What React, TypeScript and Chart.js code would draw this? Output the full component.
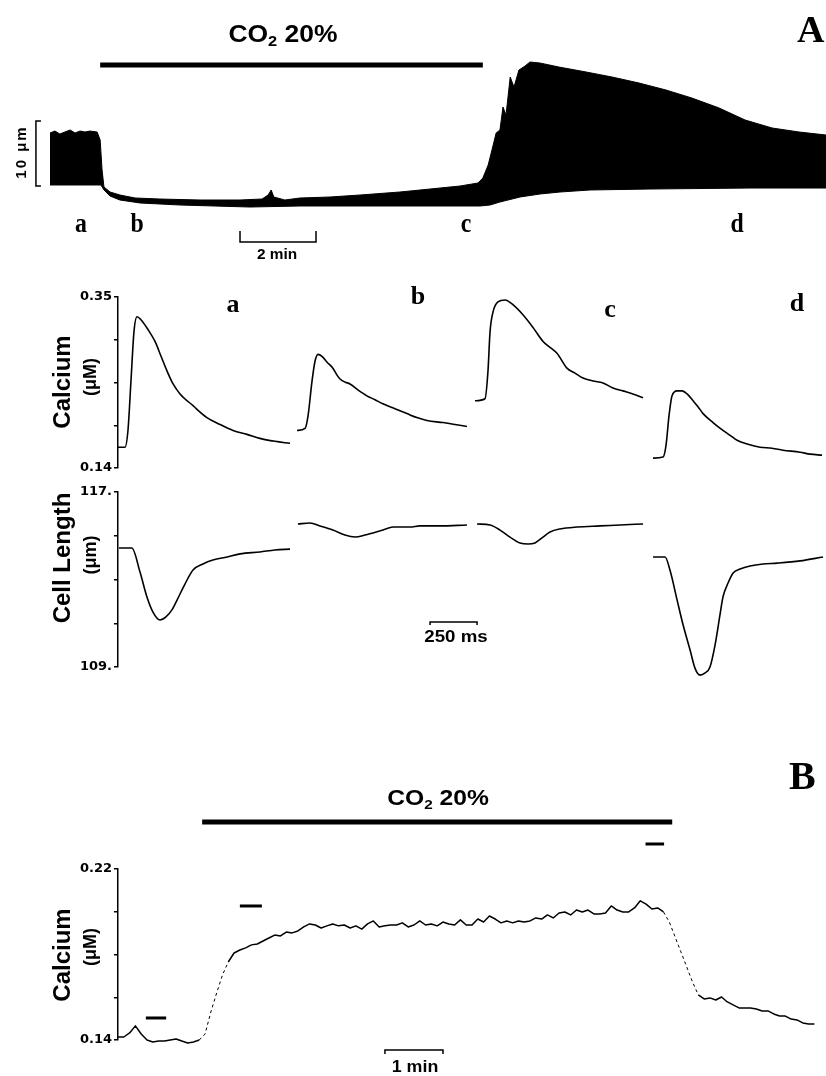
import React, { useEffect, useRef } from 'react';
import { Chart, registerables } from 'chart.js';
Chart.register(...registerables);

const SANS = '"Liberation Sans", Arial, Helvetica, sans-serif';
const SERIF = '"Liberation Serif", "Times New Roman", serif';

// ---------- Panel A, top: continuous cell-length record (time in min, length in µm) ----------
const A_UPPER_T = [0, 0.13, 0.26, 0.39, 0.53, 0.66, 0.79, 0.92, 1.05, 1.24, 1.32, 1.37, 1.42, 1.58, 1.84, 2.24, 2.89, 3.95, 5.0, 5.58, 5.74, 5.82, 5.89, 6.18, 6.58, 7.37, 8.16, 9.21, 10.0, 10.79, 11.26, 11.39, 11.53, 11.63, 11.74, 11.84, 11.92, 12.0, 12.11, 12.21, 12.34, 12.5, 12.63, 12.89, 13.39, 14.11, 14.79, 15.5, 16.21, 16.89, 17.61, 18.29, 19.0, 19.71, 20.42];
const A_UPPER_V = [11.85, 12.15, 11.69, 12.0, 12.31, 11.85, 12.15, 12.0, 12.15, 12.0, 10.77, 6.15, 3.54, 2.77, 2.31, 1.85, 1.69, 1.54, 1.54, 1.69, 2.31, 3.08, 2.0, 1.54, 1.85, 2.0, 2.31, 2.77, 3.23, 3.69, 4.15, 4.92, 6.92, 9.23, 11.85, 12.31, 15.85, 14.62, 20.46, 18.92, 21.54, 22.15, 22.77, 22.62, 22.0, 21.23, 20.46, 19.54, 18.46, 17.23, 15.69, 13.85, 12.62, 12.0, 11.54];
const A_LOWER_T = [0, 1.34, 1.42, 1.58, 1.84, 2.37, 3.42, 5.26, 6.58, 9.21, 11.32, 11.58, 11.84, 12.37, 12.89, 13.42, 14.21, 15.79, 18.42, 20.42];
const A_LOWER_V = [3.85, 3.85, 3.08, 2.15, 1.54, 1.08, 0.77, 0.46, 0.62, 0.62, 0.62, 0.77, 1.23, 2.0, 2.46, 2.77, 3.08, 3.23, 3.38, 3.38];
const A_CO2_T = [1.32, 11.39];
const A_CO2_LEVEL = 22.3;
const A_TOP_LETTERS = ['a', 'b', 'c', 'd'];

// ---------- Panel A, middle: single beats a-d (time in ms within each beat) ----------
const SEG_LETTERS = ['a', 'b', 'c', 'd'];
const SEG_START_MS = [0, 952, 1899, 2846];

const CA_A_T = [0, 37, 53, 69, 85, 101, 122, 160, 197, 229, 261, 293, 330, 399, 473, 543, 612, 686, 755, 835, 915];
const CA_A_V = [0.1655, 0.1655, 0.1861, 0.2468, 0.3075, 0.3257, 0.3221, 0.3099, 0.2954, 0.2772, 0.259, 0.2432, 0.231, 0.2165, 0.2019, 0.1934, 0.1861, 0.1813, 0.1764, 0.1728, 0.1703];
const CA_B_T = [0, 43, 59, 80, 96, 112, 133, 160, 191, 213, 229, 255, 282, 324, 372, 415, 457, 521, 585, 638, 691, 777, 840, 904];
const CA_B_V = [0.1861, 0.1886, 0.2043, 0.2468, 0.2711, 0.2796, 0.2772, 0.2699, 0.2626, 0.2541, 0.2493, 0.2456, 0.2432, 0.2359, 0.2286, 0.2238, 0.2189, 0.2128, 0.2068, 0.2019, 0.1983, 0.1958, 0.1934, 0.191];
const CA_C_T = [0, 53, 69, 80, 96, 122, 160, 197, 255, 309, 362, 399, 436, 489, 532, 574, 628, 681, 734, 787, 840, 894];
const CA_C_V = [0.2225, 0.225, 0.259, 0.3075, 0.3318, 0.3439, 0.3464, 0.3415, 0.3282, 0.3124, 0.2954, 0.2881, 0.2808, 0.2626, 0.2565, 0.2505, 0.2468, 0.2444, 0.2383, 0.2347, 0.231, 0.2262];
const CA_D_T = [0, 53, 69, 85, 101, 128, 154, 181, 213, 239, 266, 319, 372, 410, 447, 505, 569, 633, 691, 782, 835, 899];
const CA_D_V = [0.1521, 0.1534, 0.1679, 0.2043, 0.2286, 0.2347, 0.2347, 0.231, 0.2225, 0.2153, 0.2068, 0.1958, 0.1861, 0.1801, 0.174, 0.1691, 0.1655, 0.1643, 0.1619, 0.1594, 0.157, 0.1558];

const CL_A_T = [5, 74, 117, 154, 186, 223, 255, 287, 314, 356, 399, 452, 505, 580, 649, 755, 835, 915];
const CL_A_V = [114.44, 114.44, 113.34, 112.2, 111.51, 111.15, 111.29, 111.61, 112.06, 112.79, 113.43, 113.71, 113.89, 114.03, 114.17, 114.26, 114.35, 114.39];
const CL_B_T = [5, 69, 122, 191, 255, 309, 362, 404, 457, 511, 601, 654, 761, 904];
const CL_B_V = [115.54, 115.58, 115.45, 115.26, 115.03, 114.94, 115.03, 115.13, 115.26, 115.4, 115.4, 115.45, 115.45, 115.49];
const CL_C_T = [11, 80, 133, 186, 239, 282, 319, 356, 399, 452, 543, 665, 771, 894];
const CL_C_V = [115.54, 115.49, 115.26, 114.94, 114.67, 114.62, 114.67, 114.9, 115.17, 115.31, 115.4, 115.45, 115.49, 115.54];
const CL_D_T = [0, 64, 90, 128, 160, 197, 223, 250, 277, 303, 330, 356, 372, 399, 426, 463, 516, 585, 660, 782, 904];
const CL_D_V = [114.03, 114.03, 113.43, 112.06, 110.92, 109.78, 108.95, 108.63, 108.73, 109.0, 110.01, 111.38, 112.2, 112.84, 113.3, 113.48, 113.62, 113.71, 113.75, 113.85, 114.03];

const CA_TICKS = [0.14, 0.1925, 0.245, 0.2975, 0.35];
const CA_TICK_LABELS = ['0.14', '', '', '', '0.35'];
const CL_TICKS = [109, 111, 113, 115, 117];
const CL_TICK_LABELS = ['109.', '', '', '', '117.'];

// ---------- Panel B: calcium record (time in min, calcium in µM) ----------
const B_T = [0, 0.1, 0.2, 0.3, 0.4, 0.5, 0.6, 0.7, 0.8, 0.9, 1.0, 1.1, 1.2, 1.3, 1.4, 1.5, 1.6, 1.7, 1.8, 1.9, 2.0, 2.1, 2.2, 2.3, 2.4, 2.5, 2.6, 2.7, 2.8, 2.9, 3.0, 3.1, 3.2, 3.3, 3.4, 3.5, 3.6, 3.7, 3.8, 3.9, 4.0, 4.1, 4.2, 4.3, 4.4, 4.5, 4.6, 4.7, 4.8, 4.9, 5.0, 5.1, 5.2, 5.3, 5.4, 5.5, 5.6, 5.7, 5.8, 5.9, 6.0, 6.1, 6.2, 6.3, 6.4, 6.5, 6.6, 6.7, 6.8, 6.9, 7.0, 7.1, 7.2, 7.3, 7.4, 7.5, 7.6, 7.7, 7.8, 7.9, 8.0, 8.1, 8.2, 8.3, 8.4, 8.5, 8.6, 8.7, 8.8, 8.9, 9.0, 9.1, 9.2, 9.3, 9.4, 9.5, 9.6, 9.7, 9.8, 9.9, 10.0, 10.1, 10.2, 10.3, 10.4, 10.5, 10.6, 10.7, 10.8, 10.9, 11.0, 11.1, 11.2, 11.3, 11.4, 11.5, 11.6, 11.7, 11.8, 11.9, 12.0];
const B_CA = [0.1414, 0.1414, 0.1433, 0.1466, 0.1428, 0.14, 0.1391, 0.1395, 0.1395, 0.14, 0.1405, 0.1395, 0.1386, 0.1391, 0.14, 0.1428, 0.1531, 0.162, 0.1704, 0.1765, 0.1807, 0.1821, 0.1831, 0.1845, 0.1849, 0.1863, 0.1877, 0.1891, 0.1887, 0.1905, 0.1901, 0.191, 0.1929, 0.1943, 0.1938, 0.1924, 0.1934, 0.1943, 0.1934, 0.1938, 0.1924, 0.1934, 0.1919, 0.1943, 0.1957, 0.1929, 0.1934, 0.1938, 0.1938, 0.1948, 0.1929, 0.1938, 0.1957, 0.1938, 0.1943, 0.1934, 0.1952, 0.1943, 0.1938, 0.1962, 0.1938, 0.1938, 0.1966, 0.1952, 0.198, 0.1966, 0.1948, 0.1957, 0.1948, 0.1957, 0.1952, 0.1957, 0.1971, 0.1966, 0.1985, 0.1971, 0.1994, 0.1999, 0.1985, 0.2008, 0.1999, 0.2008, 0.199, 0.199, 0.1994, 0.2027, 0.2008, 0.1999, 0.1999, 0.2018, 0.2051, 0.2036, 0.2013, 0.2018, 0.1999, 0.1952, 0.1882, 0.1812, 0.1742, 0.1671, 0.1611, 0.1592, 0.1597, 0.1587, 0.1601, 0.1578, 0.1564, 0.155, 0.155, 0.155, 0.1545, 0.1536, 0.1536, 0.1522, 0.1512, 0.1512, 0.1498, 0.1494, 0.148, 0.1475, 0.1475];
const B_DASHED = [[1.4, 1.9], [9.4, 10.0]];
const B_MARKS_T = [[0.48, 0.83], [2.1, 2.48], [9.09, 9.41]];
const B_MARKS_V = [0.1503, 0.2027, 0.2317];
const B_CO2_T = [1.45, 9.55];
const B_CO2_LEVEL = 0.242;
const B_TICKS = [0.14, 0.16, 0.18, 0.2, 0.22];
const B_TICK_LABELS = ['0.14', '', '', '', '0.22'];

// ---------- helpers ----------
const pts = (t: number[], v: number[], off = 0) => t.map((ti, i) => ({ x: ti + off, y: v[i] }));

type Bar = { kind: 'h'; x0: number; x1: number; y: number; tick: number } | { kind: 'v'; x: number; y0: number; y1: number; tick: number };

function barsPlugin(bars: Bar[]) {
  return {
    id: 'scaleBars',
    afterDatasetsDraw(chart: any) {
      const { ctx } = chart;
      const xs = chart.scales.x;
      const ys = chart.scales.y;
      ctx.save();
      ctx.strokeStyle = '#000';
      ctx.lineWidth = 1.5;
      for (const b of bars) {
        ctx.beginPath();
        if (b.kind === 'h') {
          const x0 = xs.getPixelForValue(b.x0), x1 = xs.getPixelForValue(b.x1), y = ys.getPixelForValue(b.y);
          ctx.moveTo(x0, y + b.tick); ctx.lineTo(x0, y); ctx.lineTo(x1, y); ctx.lineTo(x1, y + b.tick);
        } else {
          const x = xs.getPixelForValue(b.x), y0 = ys.getPixelForValue(b.y0), y1 = ys.getPixelForValue(b.y1);
          ctx.moveTo(x + b.tick, y0); ctx.lineTo(x, y0); ctx.lineTo(x, y1); ctx.lineTo(x + b.tick, y1);
        }
        ctx.stroke();
      }
      ctx.restore();
    },
  };
}

function baseOptions(xmin: number, xmax: number, padding: any, y: any) {
  return {
    animation: false,
    responsive: false,
    maintainAspectRatio: false,
    events: [],
    layout: { padding },
    plugins: { legend: { display: false }, tooltip: { enabled: false } },
    elements: { point: { radius: 0 }, line: { tension: 0, borderJoinStyle: 'round', borderCapStyle: 'butt' } },
    scales: { x: { type: 'linear', display: false, min: xmin, max: xmax }, y },
  };
}

function axisY(min: number, max: number, ticks: number[], labels: string[]) {
  return {
    type: 'linear', min, max, display: true, position: 'left',
    afterFit: (s: any) => { s.width = 118; },
    afterBuildTicks: (s: any) => { s.ticks = ticks.map((v) => ({ value: v })); },
    ticks: {
      autoSkip: false, color: '#000', padding: 2,
      font: { family: '"DejaVu Sans", Arial, sans-serif', weight: 'bold', size: 13 },
      callback: (_v: any, i: number) => labels[i],
    },
    grid: { drawOnChartArea: false, drawTicks: true, tickLength: 4, color: '#000', lineWidth: 1.5 },
    border: { display: true, color: '#000', width: 1.5 },
  };
}

const line = (data: any[], extra: any = {}) => ({
  data, borderColor: '#000', backgroundColor: '#000', borderWidth: 1.6, pointRadius: 0, fill: false, clip: false, ...extra,
});
const smooth = (data: any[]) => line(data, { cubicInterpolationMode: 'monotone' });

function ChartCanvas({ top, height, make }: { top: number; height: number; make: () => any }) {
  const ref = useRef<HTMLCanvasElement>(null);
  useEffect(() => {
    const c = new Chart(ref.current as HTMLCanvasElement, make());
    return () => c.destroy();
  }, []);
  return <canvas ref={ref} width={826} height={height} style={{ position: 'absolute', left: 0, top, width: 826, height }} />;
}

function Txt({ x, y, size, serif, align = 'center', sx = 1, ls = 0, children }: any) {
  const tr = align === 'center' ? `translateX(-50%) scaleX(${sx})` : `scaleX(${sx})`;
  return (
    <div style={{
      position: 'absolute', left: x, top: y - 0.34 * size, lineHeight: 0, whiteSpace: 'nowrap',
      fontFamily: serif ? SERIF : SANS, fontWeight: 'bold', fontSize: size, color: '#000',
      transform: tr, transformOrigin: align === 'center' ? 'center' : 'left', letterSpacing: ls,
    }}>{children}</div>
  );
}

function RotTxt({ cx, cy, size, ls = 0, children }: any) {
  return (
    <div style={{
      position: 'absolute', left: cx, top: cy, lineHeight: 1, whiteSpace: 'nowrap',
      fontFamily: SANS, fontWeight: 'bold', fontSize: size, color: '#000', letterSpacing: ls,
      transform: 'translate(-50%, -50%) rotate(-90deg)',
    }}>{children}</div>
  );
}

const CO2 = () => (<span>CO<span style={{ fontSize: '0.62em', position: 'relative', top: '0.3em' }}>2</span> 20%</span>);

// ---------- charts ----------
const makeTop = () => ({
  type: 'line',
  data: {
    datasets: [
      line(pts(A_LOWER_T, A_LOWER_V), { borderWidth: 1 }),
      line(pts(A_UPPER_T, A_UPPER_V), { borderWidth: 1, fill: '-1' }),
      line(pts(A_CO2_T, [A_CO2_LEVEL, A_CO2_LEVEL]), { borderWidth: 5 }),
    ],
  },
  options: baseOptions(0, 20.42, { left: 50, right: 0, top: 0, bottom: 0 }, { type: 'linear', display: false, min: -7.69, max: 32.31 }),
  plugins: [barsPlugin([
    { kind: 'h', x0: 5.0, x1: 7.0, y: -4.92, tick: -11 },
    { kind: 'v', x: -0.37, y0: 3.7, y1: 13.7, tick: 5 },
  ])],
});

const makeCa = () => ({
  type: 'line',
  data: {
    datasets: [
      smooth(pts(CA_A_T, CA_A_V, SEG_START_MS[0])),
      smooth(pts(CA_B_T, CA_B_V, SEG_START_MS[1])),
      smooth(pts(CA_C_T, CA_C_V, SEG_START_MS[2])),
      smooth(pts(CA_D_T, CA_D_V, SEG_START_MS[3])),
    ],
  },
  options: baseOptions(0, 3766, { left: 0, right: 0, top: 17, bottom: 12 }, axisY(0.14, 0.35, CA_TICKS, CA_TICK_LABELS)),
});

const makeCl = () => ({
  type: 'line',
  data: {
    datasets: [
      smooth(pts(CL_A_T, CL_A_V, SEG_START_MS[0])),
      smooth(pts(CL_B_T, CL_B_V, SEG_START_MS[1])),
      smooth(pts(CL_C_T, CL_C_V, SEG_START_MS[2])),
      smooth(pts(CL_D_T, CL_D_V, SEG_START_MS[3])),
    ],
  },
  options: baseOptions(0, 3766, { left: 0, right: 0, top: 12, bottom: 13 }, axisY(109, 117, CL_TICKS, CL_TICK_LABELS)),
  plugins: [barsPlugin([{ kind: 'h', x0: 1660, x1: 1910, y: 111.06, tick: 3 }])],
});

const inDash = (a: number, b: number) => B_DASHED.some(([s, e]) => a >= s - 1e-6 && b <= e + 1e-6);

const makeB = () => ({
  type: 'line',
  data: {
    datasets: [
      line(pts(B_T, B_CA), {
        borderWidth: 1.5,
        segment: {
          borderDash: (c: any) => (inDash(c.p0.parsed.x, c.p1.parsed.x) ? [3, 3] : undefined),
          borderWidth: (c: any) => (inDash(c.p0.parsed.x, c.p1.parsed.x) ? 1 : undefined),
        },
      }),
      ...B_MARKS_T.map((tt, i) => line(pts(tt, [B_MARKS_V[i], B_MARKS_V[i]]), { borderWidth: 3 })),
      line(pts(B_CO2_T, [B_CO2_LEVEL, B_CO2_LEVEL]), { borderWidth: 5 }),
    ],
  },
  options: baseOptions(0, 12.2, { left: 0, right: 0, top: 109, bottom: 36 }, axisY(0.14, 0.22, B_TICKS, B_TICK_LABELS)),
  plugins: [barsPlugin([{ kind: 'h', x0: 4.6, x1: 5.6, y: 0.1353, tick: 4 }])],
});

const TOP_LETTER_X = [81, 137, 466, 737];
const MID_LETTER_X = [233, 418, 610, 797];
const MID_LETTER_Y = [313, 305, 318, 312];

export default function App() {
  return (
    <div style={{ position: 'absolute', left: 0, top: 0, width: 826, height: 1076, background: '#fff', overflow: 'hidden' }}>
      <ChartCanvas top={0} height={260} make={makeTop} />
      <ChartCanvas top={280} height={200} make={makeCa} />
      <ChartCanvas top={480} height={200} make={makeCl} />
      <ChartCanvas top={760} height={316} make={makeB} />

      {/* Panel A top */}
      <Txt x={283} y={42} size={23} sx={1.15}><CO2 /></Txt>
      <Txt x={797} y={42} size={38} serif align="left">A</Txt>
      <RotTxt cx={20} cy={152} size={15} ls={2}>10 μm</RotTxt>
      {A_TOP_LETTERS.map((l, i) => (
        <Txt key={l} x={TOP_LETTER_X[i]} y={233} size={28} serif sx={0.85}>{l}</Txt>
      ))}
      <Txt x={277} y={259} size={14} sx={1.1}>2 min</Txt>

      {/* Panel A middle */}
      {SEG_LETTERS.map((l, i) => (
        <Txt key={l} x={MID_LETTER_X[i]} y={MID_LETTER_Y[i]} size={26} serif>{l}</Txt>
      ))}
      <RotTxt cx={62} cy={382} size={24}>Calcium</RotTxt>
      <RotTxt cx={90} cy={377} size={18}>(μM)</RotTxt>
      <RotTxt cx={62} cy={558} size={24}>Cell Length</RotTxt>
      <RotTxt cx={90} cy={555} size={18}>(μm)</RotTxt>
      <Txt x={456} y={643} size={17} sx={1.1}>250 ms</Txt>

      {/* Panel B */}
      <Txt x={789} y={790} size={40} serif align="left">B</Txt>
      <Txt x={438} y={805} size={22} sx={1.12}><CO2 /></Txt>
      <RotTxt cx={62} cy={955} size={24}>Calcium</RotTxt>
      <RotTxt cx={90} cy={947} size={18}>(μM)</RotTxt>
      <Txt x={415} y={1073} size={17} sx={1.05}>1 min</Txt>
    </div>
  );
}
